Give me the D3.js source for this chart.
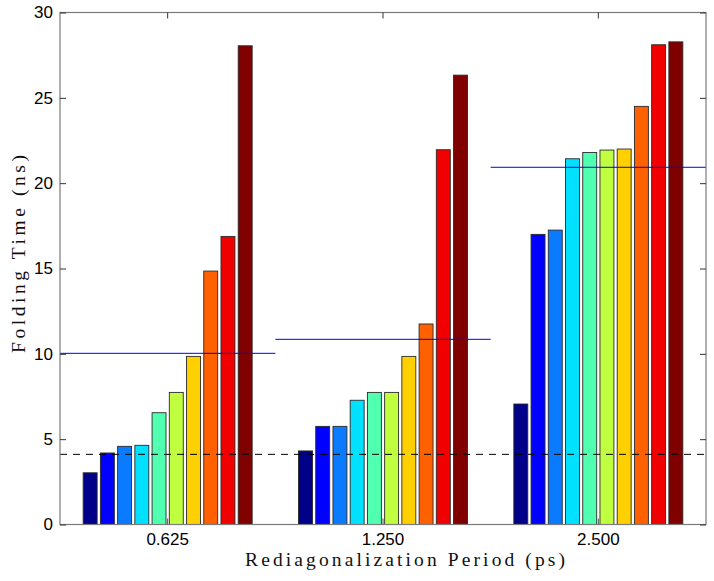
<!DOCTYPE html>
<html>
<head>
<meta charset="utf-8">
<script src="https://cdn.jsdelivr.net/npm/d3@7"></script>
<style>
body { margin: 0; background: #fff; }
svg { display: block; }
</style>
</head>
<body>
<svg id="chart" width="714" height="581"></svg>
<script>
const categories = ["0.625", "1.250", "2.500"];
const seriesNames = ["s1","s2","s3","s4","s5","s6","s7","s8","s9","s10"];
const values = [
  [3.03, 4.19, 4.58, 4.64, 6.55, 7.74, 9.85, 14.85, 16.88, 28.05],
  [4.31, 5.75, 5.75, 7.28, 7.74, 7.74, 9.85, 11.75, 21.96, 26.33],
  [7.06, 17.00, 17.25, 21.43, 21.80, 21.94, 22.00, 24.50, 28.11, 28.28]
];
const groupMeans = [10.03, 10.85, 20.93];
const baselineValue = 4.11;
const yTicks = [0, 5, 10, 15, 20, 25, 30];
const colors = ["#000088", "#0000ff", "#0a7aff", "#00e0ff", "#50ffb0", "#c0ff40", "#ffd000", "#ff6000", "#f00000", "#800000"];

const svg = d3.select("#chart");
const L = 60, R = 706, T = 12.5, B = 524.5;

const x = d3.scaleBand().domain(categories).range([L, R]).paddingInner(0).paddingOuter(0);
const bw = x.bandwidth();
const xi = d3.scaleBand().domain(seriesNames).range([-0.4 * bw, 0.4 * bw]).paddingInner(0.19).paddingOuter(0.095);
const y = d3.scaleLinear().domain([0, 30]).range([B, T]);

// bars
const g = svg.append("g");
categories.forEach((c, gi) => {
  const cx = x(c) + bw / 2;
  g.selectAll(null).data(values[gi]).enter().append("rect")
    .attr("x", (d, i) => cx + xi(seriesNames[i]))
    .attr("width", xi.bandwidth())
    .attr("y", d => y(d))
    .attr("height", d => y(0) - y(d))
    .attr("fill", (d, i) => colors[i])
    .attr("stroke", "#2a2a2a")
    .attr("stroke-width", 0.9);
});

// mean lines per group
svg.append("g").selectAll("line").data(categories).enter().append("line")
  .attr("x1", c => x(c)).attr("x2", c => x(c) + bw)
  .attr("y1", (c, i) => y(groupMeans[i])).attr("y2", (c, i) => y(groupMeans[i]))
  .attr("stroke", "#0000ee").attr("stroke-width", 1);

// dashed baseline
svg.append("line")
  .attr("x1", L).attr("x2", R)
  .attr("y1", y(baselineValue)).attr("y2", y(baselineValue))
  .attr("stroke", "#000").attr("stroke-width", 1).attr("stroke-dasharray", "7,6");

// axes box
const axisColor = "#7a7a7a";
svg.append("rect").attr("x", L).attr("y", T).attr("width", R - L).attr("height", B - T)
  .attr("fill", "none").attr("stroke", axisColor).attr("stroke-width", 1.2);

const tickFont = "Liberation Sans, Arial, sans-serif";

// y axis left (inward ticks)
const yAxisL = d3.axisLeft(y).tickValues(yTicks).tickSizeInner(-6).tickSizeOuter(0).tickPadding(7).tickFormat(d3.format("d"));
const gyl = svg.append("g").attr("transform", `translate(${L},0)`).call(yAxisL);
gyl.attr("font-size", 17).attr("font-family", tickFont);
gyl.select(".domain").remove();
gyl.selectAll("line").attr("stroke", "#333");
gyl.selectAll("text").attr("fill", "#000");

const yAxisR = d3.axisRight(y).tickValues(yTicks).tickSizeInner(-6).tickSizeOuter(0).tickFormat("");
const gyr = svg.append("g").attr("transform", `translate(${R},0)`).call(yAxisR);
gyr.select(".domain").remove();
gyr.selectAll("line").attr("stroke", "#333");

// x axis bottom
const xAxisB = d3.axisBottom(x).tickSizeInner(-6).tickSizeOuter(0).tickPadding(8);
const gxb = svg.append("g").attr("transform", `translate(0,${B})`).call(xAxisB);
gxb.attr("font-size", 17).attr("font-family", tickFont);
gxb.select(".domain").remove();
gxb.selectAll("line").attr("stroke", "#555");
gxb.selectAll("text").attr("fill", "#000");

const xAxisT = d3.axisTop(x).tickSizeInner(-6).tickSizeOuter(0).tickFormat("");
const gxt = svg.append("g").attr("transform", `translate(0,${T})`).call(xAxisT);
gxt.select(".domain").remove();
gxt.selectAll("line").attr("stroke", "#333");

// axis labels
svg.append("text")
  .attr("x", 405).attr("y", 565.5)
  .attr("text-anchor", "middle")
  .attr("font-family", "Liberation Serif, serif").attr("font-size", 19.5)
  .attr("fill", "#111")
  .attr("textLength", 320).attr("lengthAdjust", "spacing")
  .text("Rediagonalization Period (ps)");

svg.append("text")
  .attr("transform", "translate(25,254) rotate(-90)")
  .attr("text-anchor", "middle")
  .attr("font-family", "Liberation Serif, serif").attr("font-size", 19.5)
  .attr("fill", "#111")
  .attr("textLength", 198).attr("lengthAdjust", "spacing")
  .text("Folding Time (ns)");
</script>
</body>
</html>
